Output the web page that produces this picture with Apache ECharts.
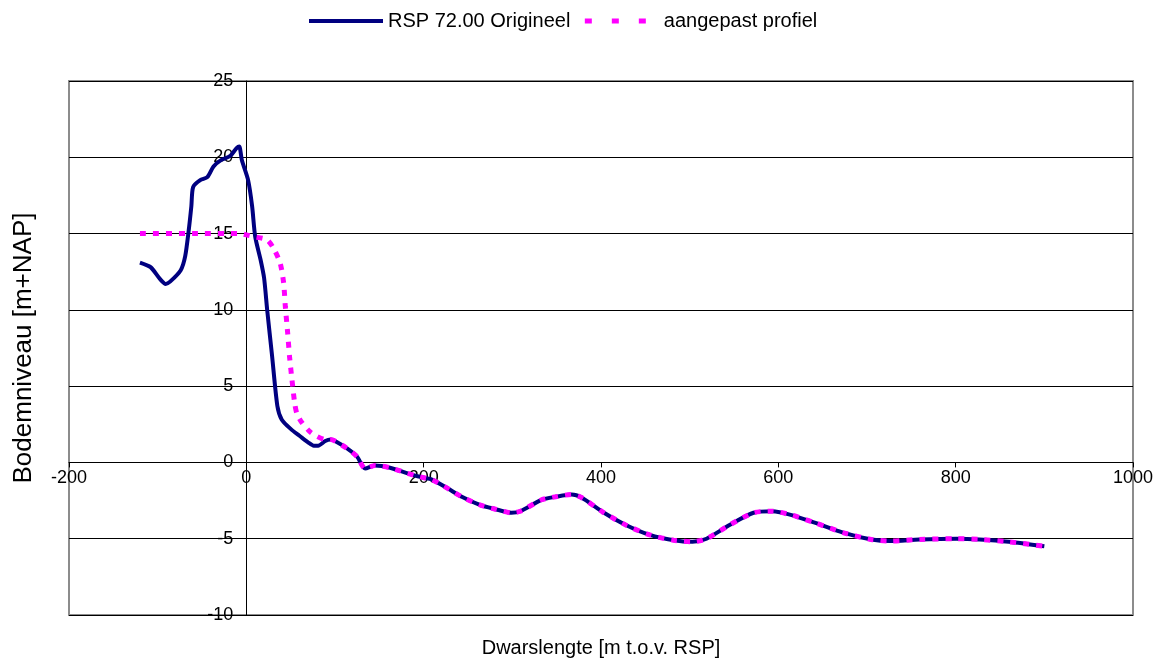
<!DOCTYPE html>
<html>
<head>
<meta charset="utf-8">
<script src="https://cdn.jsdelivr.net/npm/echarts@6/dist/echarts.min.js"></script>
<style>
  html, body { margin: 0; padding: 0; background: #ffffff; }
  #chart { width: 1156px; height: 662px; }
</style>
</head>
<body>
<div id="chart"></div>
<script>
// Dwarsprofiel RSP 72.00: afstand (m t.o.v. RSP) en bodemniveau (m+NAP)
const origDist = [
  -120, -108, -97, -91, -86, -74, -69, -65, -62, -60,
  -52, -44, -37, -29, -18, -11, -8, -5, 2, 6.5,
  10, 16, 20, 23.5, 29, 35, 40, 50, 61, 70,
  76, 81, 89, 95, 100, 114, 125, 134, 145, 162,
  181, 196, 208, 227, 243, 264, 280, 299, 309, 333,
  349, 367, 378, 402, 428, 455, 482, 503, 519, 545,
  572, 593, 615, 641, 673, 705, 726, 759, 801, 827,
  860, 900
];
const origLevel = [
  13.1, 12.8, 12.0, 11.7, 11.85, 12.6, 13.5, 15.2, 16.8, 18.05,
  18.5, 18.7, 19.4, 19.8, 20.1, 20.6, 20.7, 19.8, 18.5, 16.8,
  14.8, 13.3, 12.1, 10.0, 7.0, 3.7, 2.8, 2.2, 1.7, 1.3,
  1.1, 1.1, 1.4, 1.5, 1.4, 0.9, 0.37, -0.4, -0.2, -0.35,
  -0.7, -0.95, -1.1, -1.7, -2.25, -2.8, -3.05, -3.3, -3.2, -2.45,
  -2.25, -2.1, -2.3, -3.25, -4.1, -4.75, -5.1, -5.2, -5.0, -4.1,
  -3.3, -3.2, -3.45, -3.95, -4.6, -5.05, -5.15, -5.05, -5.0, -5.05,
  -5.2, -5.5
];

// Aangepast deel van het profiel; verder volgt het de originele bodem
const adjDist = [
  -120, -60, -7, 1, 8, 23, 30, 38, 42, 44,
  46.6, 48.8, 51.5, 54.5, 57, 62.8, 72, 80, 89
];
const adjLevel = [
  15, 15, 15, 14.9, 14.8, 14.6, 14.1, 13.1, 11.8, 10.2,
  8.5, 6.9, 5.4, 3.9, 3.2, 2.6, 2.0, 1.7, 1.5
];
const adjJoinFrom = 95;

const xTicks = { min: -200, max: 1000, interval: 200 };
const yTicks = { min: -10, max: 25, interval: 5 };

const seriesNames = ['RSP 72.00 Origineel', 'aangepast profiel'];

const origData = origDist.map((d, i) => [d, origLevel[i]]);
const adjData = adjDist.map((d, i) => [d, adjLevel[i]])
  .concat(origData.filter(p => p[0] >= adjJoinFrom));

const FONT = '"Liberation Sans", Arial, sans-serif';

// Plot box in pixels; the axes cross at (0, 0) inside it
const box = { left: 69, right: 23, top: 81, bottom: 47, width: 1156 - 69 - 23, height: 662 - 81 - 47 };
const yAxisShift = (0 - xTicks.min) / (xTicks.max - xTicks.min) * box.width;
const xAxisShift = (0 - yTicks.min) / (yTicks.max - yTicks.min) * box.height;

const chart = echarts.init(document.getElementById('chart'), null, { renderer: 'canvas' });
chart.setOption({
  animation: false,
  backgroundColor: '#ffffff',
  textStyle: { fontFamily: FONT, color: '#000000' },
  legend: {
    orient: 'horizontal',
    left: 307,
    top: 11,
    padding: 0,
    width: 800,
    itemWidth: 74,
    itemHeight: 20,
    itemGap: 12,
    textStyle: { fontFamily: FONT, fontSize: 20, color: '#000000' },
    data: [
      { name: seriesNames[0], itemStyle: { opacity: 0 }, lineStyle: { width: 4, color: '#000080', type: 'solid' } },
      { name: seriesNames[1], itemStyle: { opacity: 0 }, lineStyle: { width: 5, color: '#ff00ff', type: [7, 20] } }
    ]
  },
  grid: {
    left: box.left, right: box.right, top: box.top, bottom: box.bottom,
    outerBoundsMode: 'none',
    containLabel: false,
    show: true,
    borderColor: '#8c8c8c',
    borderWidth: 2,
    backgroundColor: 'transparent'
  },
  xAxis: {
    type: 'value',
    min: xTicks.min, max: xTicks.max, interval: xTicks.interval,
    position: 'bottom',
    offset: -xAxisShift,
    name: 'Dwarslengte [m t.o.v. RSP]',
    nameLocation: 'middle',
    nameGap: 176,
    nameTextStyle: { fontFamily: FONT, fontSize: 20, color: '#000000' },
    axisLine: { onZero: false, lineStyle: { color: '#000000', width: 1 } },
    axisTick: { show: true, inside: false, length: 5, lineStyle: { color: '#000000' } },
    axisLabel: { fontFamily: FONT, fontSize: 18, color: '#000000', margin: 7, formatter: v => String(v) },
    splitLine: { show: false }
  },
  yAxis: {
    type: 'value',
    min: yTicks.min, max: yTicks.max, interval: yTicks.interval,
    position: 'left',
    offset: -yAxisShift,
    name: 'Bodemniveau [m+NAP]',
    nameLocation: 'middle',
    nameGap: 210,
    nameTextStyle: { fontFamily: FONT, fontSize: 26, color: '#000000' },
    axisLine: { onZero: false, lineStyle: { color: '#000000', width: 1 } },
    axisTick: { show: true, length: 5, lineStyle: { color: '#000000' } },
    axisLabel: { fontFamily: FONT, fontSize: 18, color: '#000000', margin: 13, formatter: v => String(v) },
    splitLine: { show: true, lineStyle: { color: '#000000', width: 1 } }
  },
  series: [
    {
      name: seriesNames[0],
      type: 'line',
      data: origData,
      symbol: 'none',
      smooth: 0.25,
      lineStyle: { color: '#000080', width: 4 },
      itemStyle: { color: '#000080' },
      z: 2
    },
    {
      name: seriesNames[1],
      type: 'line',
      data: adjData,
      symbol: 'none',
      smooth: 0.25,
      lineStyle: { color: '#ff00ff', width: 5, type: [6, 7] },
      itemStyle: { color: '#ff00ff' },
      z: 3
    }
  ]
});
</script>
</body>
</html>
